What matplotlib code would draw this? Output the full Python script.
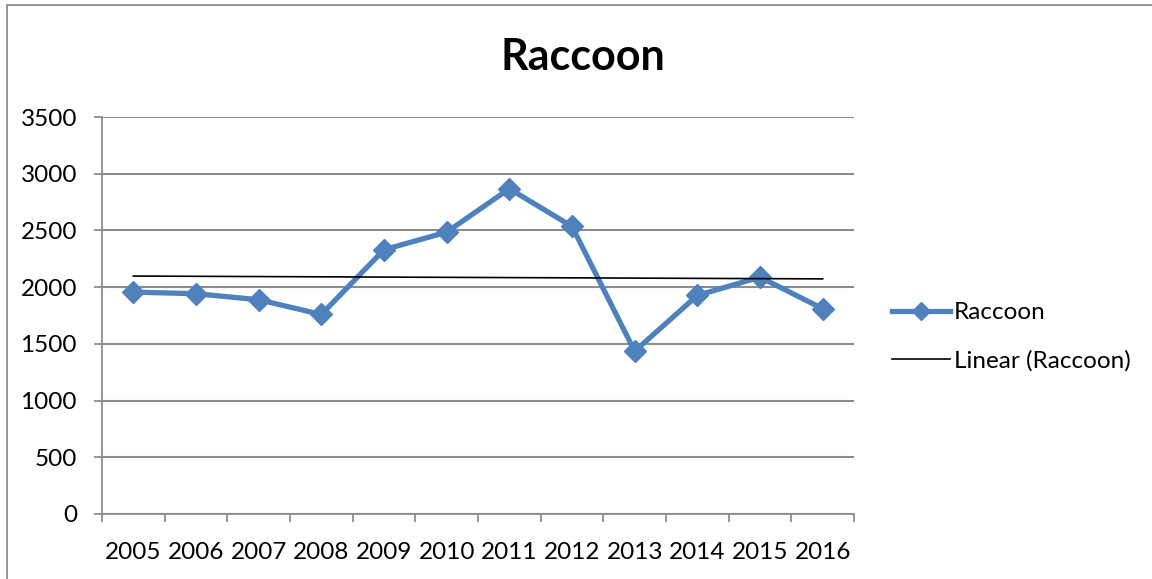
import numpy as np
import matplotlib
matplotlib.use('Agg')
import matplotlib.pyplot as plt
from matplotlib.lines import Line2D

years = ['2005', '2006', '2007', '2008', '2009', '2010',
         '2011', '2012', '2013', '2014', '2015', '2016']
raccoon = [1956, 1942, 1889, 1759, 2330, 2485, 2868, 2535, 1435, 1927, 2088, 1810]
yticks = [0, 500, 1000, 1500, 2000, 2500, 3000, 3500]

plt.rcParams['font.family'] = ['Lato', 'DejaVu Sans']
blue = '#4F81BD'
grid_c = '#8C8C8C'

fig = plt.figure(figsize=(11.52, 5.79), dpi=100)
ax = fig.add_axes([102/1152, 1-514/579, (854-102)/1152, (514-117)/579])

x = np.arange(len(years))
ax.plot(x, raccoon, color=blue, linewidth=3.8, marker='D', markersize=11,
        markerfacecolor=blue, markeredgecolor=blue, zorder=3)

# linear trend line
k, b = np.polyfit(x, raccoon, 1)
ax.plot(x, k*x + b, color='black', linewidth=1.2, zorder=4)

ax.set_xlim(-0.5, len(years)-0.5)
ax.set_ylim(0, 3500)
ax.set_yticks(yticks)
ax.set_yticklabels([str(v) for v in yticks], fontsize=17.5)
ax.yaxis.grid(True, color=grid_c, linewidth=1.5)
ax.set_axisbelow(True)

# category axis: ticks at boundaries, labels centred
ax.set_xticks(np.arange(-0.5, len(years)), minor=False)
ax.set_xticklabels([])
ax.set_xticks(x, minor=True)
ax.set_xticklabels(years, minor=True, fontsize=17.5)
ax.tick_params(axis='x', which='minor', length=0, pad=20)
ax.tick_params(axis='x', which='major', length=6, color=grid_c, width=1.3)
ax.tick_params(axis='y', length=6, color=grid_c, width=1.3, pad=12)

for s in ['top', 'right']:
    ax.spines[s].set_visible(False)
for s in ['left', 'bottom']:
    ax.spines[s].set_color(grid_c)
    ax.spines[s].set_linewidth(1.3)

fig.text(583/1152, 1-57/579, 'Raccoon', ha='center', va='center',
         fontsize=31, fontweight='bold')

handles = [Line2D([], [], color=blue, linewidth=3.8, marker='D', markersize=9),
           Line2D([], [], color='black', linewidth=1.2)]
fig.legend(handles, ['Raccoon', 'Linear (Raccoon)'], loc='center left',
           bbox_to_anchor=(870/1152, 1-337/579), frameon=False, fontsize=17.5,
           handlelength=2.4, handletextpad=0.15, labelspacing=1.1)

# chart border
fig.patches.append(plt.Rectangle((7/1152, -0.1), 1.2, 1-5/579+0.1,
                                 transform=fig.transFigure, fill=False,
                                 edgecolor='#8C8C8C', linewidth=1.3))

fig.savefig('out.png', dpi=100)
